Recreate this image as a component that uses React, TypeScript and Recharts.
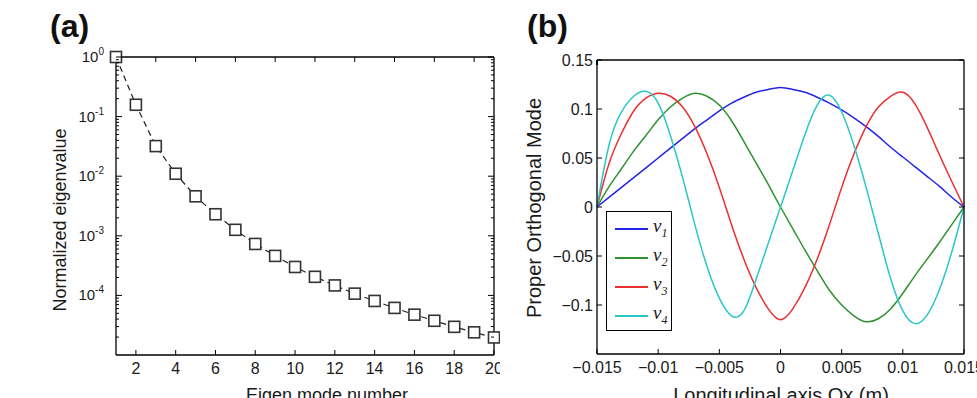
import { LineChart, Line, XAxis, YAxis, Legend, Label } from "recharts";

// (a) normalized eigenvalue spectrum
const modeNumbers = [1, 2, 3, 4, 5, 6, 7, 8, 9, 10, 11, 12, 13, 14, 15, 16, 17, 18, 19, 20];
const eigenvalues = [
  1.0, 0.158, 0.032, 0.011, 0.0046, 0.0023, 0.00126, 0.00073, 0.00046, 0.0003,
  0.000205, 0.000147, 0.000107, 0.0000807, 0.0000617, 0.0000475, 0.0000375, 0.0000297, 0.000024, 0.0000197,
];
const modeTicks = [2, 4, 6, 8, 10, 12, 14, 16, 18, 20];
const decadeTicks = [1, 0.1, 0.01, 0.001, 0.0001];
const decadeExponents = ["0", "-1", "-2", "-3", "-4"];
const minorMultipliers = [2, 3, 4, 5, 6, 7, 8, 9];
const minorDecades = [1e-5, 1e-4, 1e-3, 1e-2, 1e-1];

// (b) first four proper orthogonal modes along the axis
const positions = [
  -0.015, -0.014, -0.013, -0.012, -0.011, -0.01, -0.009, -0.008, -0.007, -0.006, -0.005,
  -0.004, -0.003, -0.002, -0.001, 0, 0.001, 0.002, 0.003, 0.004, 0.005,
  0.006, 0.007, 0.008, 0.009, 0.01, 0.011, 0.012, 0.013, 0.014, 0.015,
];
const v1 = [
  0, 0.01, 0.02, 0.03, 0.04, 0.05, 0.06, 0.07, 0.08, 0.089, 0.098, 0.106, 0.112, 0.117, 0.12, 0.122,
  0.12, 0.117, 0.112, 0.106, 0.099, 0.091, 0.082, 0.072, 0.061, 0.051, 0.041, 0.031, 0.021, 0.01, 0,
];
const v2 = [
  0, 0.021, 0.039, 0.057, 0.073, 0.089, 0.102, 0.111, 0.116, 0.113, 0.104, 0.088, 0.067, 0.045, 0.023, 0,
  -0.022, -0.044, -0.065, -0.085, -0.1, -0.111, -0.117, -0.114, -0.104, -0.088, -0.07, -0.053, -0.036, -0.018, 0,
];
const v3 = [
  0, 0.045, 0.075, 0.098, 0.111, 0.116, 0.113, 0.102, 0.082, 0.054, 0.02, -0.018, -0.053, -0.082, -0.104, -0.115,
  -0.104, -0.082, -0.053, -0.018, 0.02, 0.054, 0.082, 0.102, 0.113, 0.117, 0.105, 0.081, 0.053, 0.026, 0,
];
const v4 = [
  0, 0.064, 0.097, 0.113, 0.118, 0.106, 0.073, 0.03, -0.018, -0.061, -0.093, -0.111, -0.106, -0.074, -0.037, 0,
  0.037, 0.074, 0.104, 0.114, 0.097, 0.063, 0.02, -0.027, -0.073, -0.106, -0.119, -0.11, -0.084, -0.046, 0,
];
const seriesNames = ["v1", "v2", "v3", "v4"];
const seriesColors = ["#2424e8", "#2f922f", "#ec2f2f", "#2cc6c6"];
const positionTicks = [-0.015, -0.01, -0.005, 0, 0.005, 0.01, 0.015];
const positionLabels = ["\u22120.015", "\u22120.01", "\u22120.005", "0", "0.005", "0.01", "0.015"];
const amplitudeTicks = [-0.1, -0.05, 0, 0.05, 0.1, 0.15];
const amplitudeLabels = ["\u22120.1", "\u22120.05", "0", "0.05", "0.1", "0.15"];

const FONT = "'Liberation Sans', Arial, Helvetica, sans-serif";
const INK = "#1a1a1a";
const axisStroke = { stroke: "#000", strokeWidth: 1.3 };

const spectrumData = modeNumbers.map((mode, i) => ({ mode, value: eigenvalues[i] }));
const modeData = positions.map((x, i) => ({ x, v1: v1[i], v2: v2[i], v3: v3[i], v4: v4[i] }));
const logTicks = [...decadeTicks, ...minorDecades.flatMap((d) => minorMultipliers.map((m) => m * d))];

// log axis tick: long inward mark on decades, short one otherwise
function DecadeTick(props: any) {
  const { x, y, payload, side } = props;
  const major = decadeTicks.indexOf(payload.value);
  const dir = side === "left" ? 1 : -1;
  const len = major >= 0 ? 6 : 3;
  return (
    <g>
      <line x1={x} x2={x + dir * len} y1={y} y2={y} stroke="#000" strokeWidth={1} />
      {side === "left" && major >= 0 && (
        <text x={x - 12} y={y + 5} textAnchor="end" fontSize={15} fill={INK} fontFamily={FONT}>
          10
          <tspan dy={-7} fontSize={10}>
            {decadeExponents[major]}
          </tspan>
        </text>
      )}
    </g>
  );
}

// horizontal axis tick with the mark pointing into the plot box
function HTick(props: any) {
  const { x, y, index, side, labels, fontSize } = props;
  const dir = side === "bottom" ? -1 : 1;
  return (
    <g>
      <line x1={x} x2={x} y1={y} y2={y + dir * 5} stroke="#000" strokeWidth={1} />
      {side === "bottom" && (
        <text x={x} y={y + 19} textAnchor="middle" fontSize={fontSize} fill={INK} fontFamily={FONT}>
          {labels[index]}
        </text>
      )}
    </g>
  );
}

function VTick(props: any) {
  const { x, y, index, side } = props;
  const dir = side === "left" ? 1 : -1;
  return (
    <g>
      <line x1={x} x2={x + dir * 5} y1={y} y2={y} stroke="#000" strokeWidth={1} />
      {side === "left" && (
        <text x={x - 4} y={y + 6} textAnchor="end" fontSize={16} fill={INK} fontFamily={FONT}>
          {amplitudeLabels[index]}
        </text>
      )}
    </g>
  );
}

function SquareDot(props: any) {
  const { cx, cy, index } = props;
  return (
    <rect key={index} x={cx - 5.5} y={cy - 5.5} width={11} height={11} fill="#fff" stroke="#333" strokeWidth={1.6} />
  );
}

function ModeLegend(props: any) {
  const items = props.payload || [];
  return (
    <div
      style={{
        position: "relative",
        width: 64,
        height: 118,
        border: "1.5px solid #000",
        background: "#fff",
      }}
    >
      {items.map((item: any, i: number) => (
        <div key={item.value} style={{ position: "absolute", left: 8, top: 4 + i * 29, height: 26, width: 56 }}>
          <div style={{ position: "absolute", left: 0, top: 12, width: 33, height: 2, background: item.color }} />
          <span
            style={{
              position: "absolute",
              left: 38,
              top: -1,
              fontFamily: "'Liberation Serif', 'Times New Roman', serif",
              fontStyle: "italic",
              fontSize: 19,
              color: INK,
            }}
          >
            v<sub style={{ fontSize: 12 }}>{String(item.value).slice(1)}</sub>
          </span>
        </div>
      ))}
    </div>
  );
}

const axisTitle = (text: string, x: number, y: number, size: number, vertical = false) => () => (
  <text
    x={x}
    y={y}
    textAnchor="middle"
    fontSize={size}
    fill={INK}
    fontFamily={FONT}
    transform={vertical ? `rotate(-90 ${x} ${y})` : undefined}
  >
    {text}
  </text>
);

export default function App() {
  return (
    <div style={{ position: "absolute", left: 0, top: 0, width: 977, height: 398, background: "#fff", fontFamily: FONT }}>
      <div style={{ position: "absolute", left: 0, top: 0 }}>
        <LineChart width={500} height={398} data={spectrumData} margin={{ top: 56, right: 5, bottom: 0, left: 0 }}>
          <XAxis
            xAxisId="b"
            dataKey="mode"
            type="number"
            domain={[1, 20]}
            ticks={modeTicks}
            interval={0}
            height={43}
            tickSize={0}
            tickMargin={0}
            tickLine={false}
            axisLine={axisStroke}
            tick={(p: any) => <HTick {...p} side="bottom" labels={modeTicks.map(String)} fontSize={16} />}
          >
            <Label content={axisTitle("Eigen mode number", 327, 401, 18)} />
          </XAxis>
          <XAxis
            xAxisId="t"
            orientation="top"
            type="number"
            domain={[1, 20]}
            allowDataOverflow
            ticks={modeTicks}
            interval={0}
            height={1}
            tickSize={0}
            tickMargin={0}
            tickLine={false}
            axisLine={axisStroke}
            tick={(p: any) => <HTick {...p} side="top" labels={[]} fontSize={16} />}
          />
          <YAxis
            yAxisId="l"
            type="number"
            scale="log"
            domain={[1e-5, 1]}
            ticks={logTicks}
            interval={0}
            width={116}
            tickSize={0}
            tickMargin={0}
            tickLine={false}
            axisLine={axisStroke}
            tick={(p: any) => <DecadeTick {...p} side="left" />}
          >
            <Label content={axisTitle("Normalized eigenvalue", 66, 220, 18, true)} />
          </YAxis>
          <YAxis
            yAxisId="r"
            orientation="right"
            type="number"
            scale="log"
            domain={[1e-5, 1]}
            allowDataOverflow
            ticks={logTicks}
            interval={0}
            width={1}
            tickSize={0}
            tickMargin={0}
            tickLine={false}
            axisLine={axisStroke}
            tick={(p: any) => <DecadeTick {...p} side="right" />}
          />
          <Line
            xAxisId="b"
            yAxisId="l"
            type="linear"
            dataKey="value"
            stroke="#222"
            strokeWidth={1.2}
            strokeDasharray="6 4"
            dot={SquareDot}
            activeDot={false}
            isAnimationActive={false}
          />
        </LineChart>
      </div>

      <div style={{ position: "absolute", left: 500, top: 0 }}>
        <LineChart width={477} height={398} data={modeData} margin={{ top: 59, right: 12, bottom: 0, left: 0 }}>
          <XAxis
            xAxisId="b"
            dataKey="x"
            type="number"
            domain={[-0.015, 0.015]}
            ticks={positionTicks}
            interval={0}
            height={44}
            tickSize={0}
            tickMargin={0}
            tickLine={false}
            axisLine={axisStroke}
            tick={(p: any) => <HTick {...p} side="bottom" labels={positionLabels} fontSize={16} />}
          >
            <Label content={axisTitle("Longitudinal axis Ox (m)", 281, 402, 20)} />
          </XAxis>
          <XAxis
            xAxisId="t"
            orientation="top"
            type="number"
            domain={[-0.015, 0.015]}
            allowDataOverflow
            ticks={positionTicks}
            interval={0}
            height={1}
            tickSize={0}
            tickMargin={0}
            tickLine={false}
            axisLine={axisStroke}
            tick={(p: any) => <HTick {...p} side="top" labels={[]} fontSize={16} />}
          />
          <YAxis
            yAxisId="l"
            type="number"
            domain={[-0.15, 0.15]}
            ticks={amplitudeTicks}
            interval={0}
            width={97}
            tickSize={0}
            tickMargin={0}
            tickLine={false}
            axisLine={axisStroke}
            tick={(p: any) => <VTick {...p} side="left" />}
          >
            <Label content={axisTitle("Proper Orthogonal Mode", 41, 208, 20, true)} />
          </YAxis>
          <YAxis
            yAxisId="r"
            orientation="right"
            type="number"
            domain={[-0.15, 0.15]}
            allowDataOverflow
            ticks={amplitudeTicks}
            interval={0}
            width={1}
            tickSize={0}
            tickMargin={0}
            tickLine={false}
            axisLine={axisStroke}
            tick={(p: any) => <VTick {...p} side="right" />}
          />
          {seriesNames.map((name, i) => (
            <Line
              key={name}
              xAxisId="b"
              yAxisId="l"
              type="natural"
              dataKey={name}
              name={name}
              stroke={seriesColors[i]}
              strokeWidth={1.5}
              dot={false}
              activeDot={false}
              isAnimationActive={false}
            />
          ))}
          <Legend
            layout="vertical"
            align="center"
            verticalAlign="middle"
            wrapperStyle={{ left: 106, top: 211, width: 67, height: 121 }}
            content={ModeLegend}
          />
        </LineChart>
      </div>

      <svg width={977} height={398} style={{ position: "absolute", left: 0, top: 0, pointerEvents: "none" }}>
        <text x={50} y={37} fontSize={32} fontWeight="bold" fill="#111" fontFamily={FONT}>
          (a)
        </text>
        <text x={527} y={37} fontSize={32} fontWeight="bold" fill="#111" fontFamily={FONT}>
          (b)
        </text>
      </svg>
    </div>
  );
}
